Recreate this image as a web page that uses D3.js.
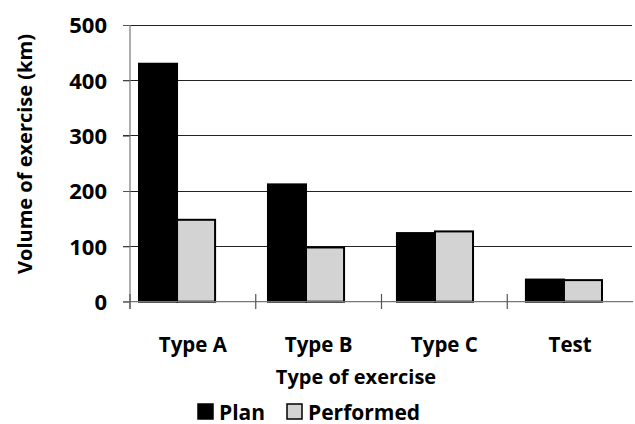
<!DOCTYPE html>
<html><head><meta charset="utf-8">
<script src="https://cdn.jsdelivr.net/npm/d3@7"></script>
<style>body{margin:0;background:#fff}svg{display:block}text{font-family:"Open Sans",sans-serif;font-weight:bold;fill:#000}</style>
</head><body><svg id="c" width="635" height="424"></svg>
<script>
const categories = ["Type A", "Type B", "Type C", "Test"];
const seriesNames = ["Plan", "Performed"];
const plan = [430, 212, 124, 40];
const performed = [148, 98, 127, 39];
const yTicks = [0, 100, 200, 300, 400, 500];
const colors = ["#000000", "#d3d3d3"];

const svg = d3.select("#c");
const y = d3.scaleLinear().domain([0, 500]).range([301.7, 25]);
const xAxisBand = d3.scaleBand().domain(categories).range([130, 633]).padding(0);
const x0 = d3.scaleBand().domain(categories).range([139, 602]).paddingInner(0.41).paddingOuter(0);
const x1 = d3.scaleBand().domain(seriesNames).range([0, x0.bandwidth()]);

// gridlines
svg.append("g").selectAll("line").data(yTicks.filter(d => d > 0)).join("line")
  .attr("x1", 123).attr("x2", 632).attr("y1", d => y(d)).attr("y2", d => y(d))
  .attr("stroke", "#222").attr("stroke-width", 1).attr("shape-rendering", "crispEdges");

// y axis
const yAxis = svg.append("g").attr("transform", "translate(130,0)")
  .call(d3.axisLeft(y).tickValues(yTicks).tickSize(7).tickPadding(16));
yAxis.select(".domain").remove();
yAxis.selectAll(".tick line").attr("stroke", "#555");
yAxis.selectAll("text").style("font-size", "22px").attr("dy", "0.35em");
svg.append("line").attr("x1", 130).attr("x2", 130).attr("y1", 25).attr("y2", 309).attr("stroke", "#777").attr("stroke-width", 1.2);

// bars
const data = categories.map((c, i) => ({cat: c, vals: [plan[i], performed[i]]}));
svg.append("g").selectAll("g").data(data).join("g")
  .attr("transform", d => `translate(${x0(d.cat)},0)`)
  .selectAll("rect").data(d => d.vals.map((v, j) => ({s: seriesNames[j], v, j}))).join("rect")
  .attr("x", d => x1(d.s)).attr("width", x1.bandwidth())
  .attr("y", d => y(d.v)).attr("height", d => y(0) - y(d.v))
  .attr("fill", d => colors[d.j]).attr("stroke", "#000").attr("stroke-width", 2);

// x axis
svg.append("line").attr("x1", 123).attr("x2", 633).attr("y1", y(0)).attr("y2", y(0)).attr("stroke", "#777").attr("stroke-width", 1.2);
svg.append("g").selectAll("line").data(categories).join("line")
  .attr("x1", d => xAxisBand(d)).attr("x2", d => xAxisBand(d)).attr("y1", 294).attr("y2", 309)
  .attr("stroke", "#555").attr("stroke-width", 1.2);
svg.append("g").selectAll("text").data(categories).join("text")
  .attr("x", d => xAxisBand(d) + xAxisBand.bandwidth() / 2).attr("y", 344.5).attr("dy", "0.35em")
  .attr("text-anchor", "middle").style("font-size", "20.5px").text(d => d);

// axis titles
svg.append("text").attr("x", 356).attr("y", 376.5).attr("dy", "0.35em").attr("text-anchor", "middle")
  .style("font-size", "20px").text("Type of exercise");
svg.append("text").attr("transform", "translate(25,154) rotate(-90)").attr("dy", "0.35em").attr("text-anchor", "middle")
  .style("font-size", "20px").text("Volume of exercise (km)");

// legend
const legX = [198, 287];
const leg = svg.append("g").selectAll("g").data(seriesNames).join("g")
  .attr("transform", (d, i) => `translate(${legX[i]},404)`);
leg.append("rect").attr("width", 15).attr("height", 15)
  .attr("fill", (d, i) => colors[i]).attr("stroke", "#000").attr("stroke-width", 1.5);
leg.append("text").attr("x", 21).attr("y", 15.5).style("font-size", "21px").text(d => d);
</script></body></html>
